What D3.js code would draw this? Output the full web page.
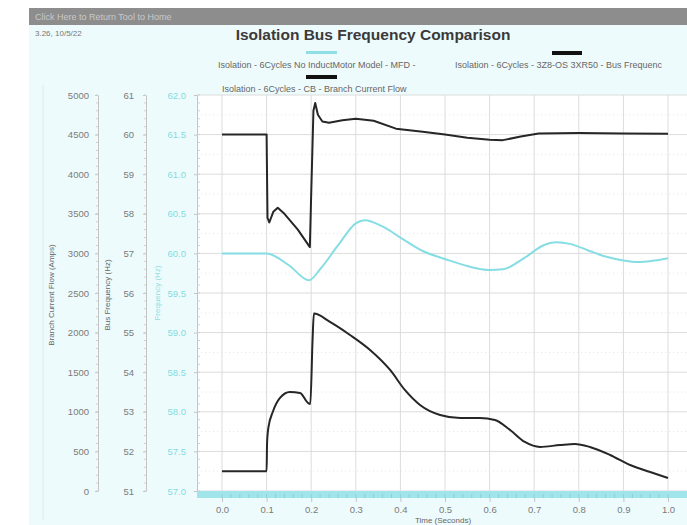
<!DOCTYPE html>
<html><head><meta charset="utf-8">
<script src="https://cdn.jsdelivr.net/npm/d3@7"></script>
<style>
html,body{margin:0;padding:0;background:#fff;overflow:hidden}
svg{display:block;font-family:"Liberation Sans",Arial,sans-serif}
</style></head>
<body><svg id="c" width="687" height="525"></svg>
<script>
// ---- data ----
const title = "Isolation Bus Frequency Comparison";
const headerText = "Click Here to Return Tool to Home";
const stampText = "3.26, 10/5/22";
const seriesNames = [
  "Isolation - 6Cycles No InductMotor Model - MFD -",
  "Isolation - 6Cycles - 3Z8-OS 3XR50 - Bus Frequenc",
  "Isolation - 6Cycles - CB - Branch Current Flow"
];
const xTicks = [0,0.1,0.2,0.3,0.4,0.5,0.6,0.7,0.8,0.9,1.0];
const ampTicks = [0,500,1000,1500,2000,2500,3000,3500,4000,4500,5000];
const hzTicks = [51,52,53,54,55,56,57,58,59,60,61];
const cyanTicks = [57,57.5,58,58.5,59,59.5,60,60.5,61,61.5,62];
const axisTitles = ["Branch Current Flow (Amps)","Bus Frequency (Hz)","Frequency (Hz)","Time (Seconds)"];

// cyan: no induction motor model frequency (third axis)
const cyanTime = [0,0.1,0.15,0.195,0.22,0.26,0.3,0.32,0.36,0.4,0.45,0.5,0.55,0.6,0.63,0.68,0.72,0.75,0.78,0.82,0.86,0.9,0.93,0.97,1.0];
const cyanFreq = [60,60,59.85,59.66,59.8,60.1,60.38,60.42,60.34,60.2,60.03,59.93,59.84,59.79,59.8,59.95,60.1,60.14,60.12,60.04,59.96,59.91,59.89,59.91,59.94];

// black: bus frequency (Hz axis)
const busTime = [0,0.1,0.102,0.106,0.115,0.125,0.14,0.17,0.197,0.2,0.205,0.209,0.215,0.225,0.24,0.27,0.3,0.34,0.39,0.45,0.5,0.55,0.6,0.63,0.67,0.71,0.8,0.9,1.0];
const busFreq = [60.0,60.0,57.9,57.78,58.05,58.15,58.0,57.6,57.16,58.5,60.6,60.8,60.5,60.33,60.3,60.36,60.4,60.35,60.15,60.07,60.0,59.92,59.87,59.86,59.95,60.03,60.04,60.03,60.02];

// black: branch current flow (Amps axis)
const curTime = [0,0.1,0.101,0.104,0.114,0.13,0.152,0.175,0.193,0.198,0.203,0.206,0.242,0.287,0.332,0.377,0.41,0.444,0.489,0.534,0.578,0.612,0.646,0.679,0.713,0.758,0.791,0.825,0.87,0.915,0.96,1.0];
const curAmps = [250,250,600,800,1000,1175,1250,1238,1111,1100,1900,2240,2135,1970,1781,1528,1276,1086,960,922,922,897,770,619,556,581,594,556,455,328,240,164];

// ---- drawing ----
const svg = d3.select("#c");
const L = 197, R = 687, T = 95, B = 491;
const x = d3.scaleLinear().domain([0,1]).range([222,668]);
const yA = d3.scaleLinear().domain([0,5000]).range([B,T]);
const yH = d3.scaleLinear().domain([51,61]).range([B,T]);
const yC = d3.scaleLinear().domain([57,62]).range([B,T]);

// page chrome
svg.append("rect").attr("x",29).attr("y",25).attr("width",658).attr("height",500).attr("fill","#eefbfc");
svg.append("rect").attr("x",29).attr("y",8).attr("width",658).attr("height",17).attr("fill","#8d8d8d");
svg.append("text").attr("x",35).attr("y",20).attr("font-size",9).attr("fill","#c9c9c9").text(headerText);
svg.append("text").attr("x",35).attr("y",36).attr("font-size",8).attr("fill","#777").text(stampText);
svg.append("line").attr("x1",43).attr("x2",43).attr("y1",85).attr("y2",520).attr("stroke","#dde8ea");

// plot area
svg.append("rect").attr("x",L).attr("y",T).attr("width",R-L).attr("height",B-T).attr("fill","#fff");

// gridlines
const minorA = d3.range(0,5001,250).filter(v=>v%500!==0);
svg.append("g").selectAll("line").data(minorA).join("line")
  .attr("x1",L).attr("x2",R).attr("y1",d=>yA(d)).attr("y2",d=>yA(d))
  .attr("stroke","#e6e6e6").attr("stroke-dasharray","1,3");
svg.append("g").selectAll("line").data(ampTicks).join("line")
  .attr("x1",L).attr("x2",R).attr("y1",d=>yA(d)).attr("y2",d=>yA(d))
  .attr("stroke","#dcdcdc");
svg.append("g").selectAll("line").data(xTicks).join("line")
  .attr("x1",d=>x(d)).attr("x2",d=>x(d)).attr("y1",T).attr("y2",B)
  .attr("stroke","#dcdcdc");

// cyan band at the bottom
svg.append("rect").attr("x",L).attr("y",B).attr("width",R-L).attr("height",7).attr("fill","#9fe5ea");

// axes helper
function styleAxis(g, color){
  g.select(".domain").attr("stroke","#c4c4c4");
  g.selectAll(".tick line").attr("stroke","#c4c4c4");
  g.selectAll(".tick text").attr("fill",color).attr("font-size",9.5).attr("font-family","Liberation Sans, Arial, sans-serif");
}
function minorTicks(scale, step, lo, hi, xpos){
  svg.append("g").selectAll("line").data(d3.range(lo,hi+step/2,step)).join("line")
    .attr("x1",xpos-2).attr("x2",xpos).attr("y1",d=>scale(d)).attr("y2",d=>scale(d))
    .attr("stroke","#d0d0d0");
}
const gA = svg.append("g").attr("transform","translate(98,0)")
  .call(d3.axisLeft(yA).tickValues(ampTicks).tickSize(3).tickPadding(6).tickSizeOuter(0).tickFormat(d3.format("d")));
styleAxis(gA,"#7a7a7a");
minorTicks(yA,100,0,5000,98);
const gH = svg.append("g").attr("transform","translate(146,0)")
  .call(d3.axisLeft(yH).tickValues(hzTicks).tickSize(3).tickPadding(9).tickSizeOuter(0).tickFormat(d3.format("d")));
styleAxis(gH,"#7a7a7a");
minorTicks(yH,0.2,51,61,146);
const gC = svg.append("g").attr("transform","translate(197,0)")
  .call(d3.axisLeft(yC).tickValues(cyanTicks).tickSize(3).tickPadding(8).tickSizeOuter(0).tickFormat(d3.format(".1f")));
styleAxis(gC,"#7fdde2");
svg.append("g").selectAll("line").data(d3.range(57,62.01,0.1)).join("line")
  .attr("x1",L).attr("x2",L+3).attr("y1",d=>yC(d)).attr("y2",d=>yC(d)).attr("stroke","#d0d0d0");

const gX = svg.append("g").attr("transform",`translate(0,${B+7})`)
  .call(d3.axisBottom(x).tickValues(xTicks).tickSize(4).tickPadding(4).tickSizeOuter(0).tickFormat(d3.format(".1f")));
styleAxis(gX,"#7a7a7a");
gX.select(".domain").remove();
svg.append("g").selectAll("line").data(d3.range(0,1.001,0.02)).join("line")
  .attr("x1",d=>x(d)).attr("x2",d=>x(d)).attr("y1",B+3).attr("y2",B+7).attr("stroke","#8fcfd4");

// axis titles
svg.append("text").attr("transform","translate(54,295) rotate(-90)").attr("text-anchor","middle")
  .attr("font-size",8).attr("fill","#666").text(axisTitles[0]);
svg.append("text").attr("transform","translate(110,295) rotate(-90)").attr("text-anchor","middle")
  .attr("font-size",8).attr("fill","#666").text(axisTitles[1]);
svg.append("text").attr("transform","translate(160,293) rotate(-90)").attr("text-anchor","middle")
  .attr("font-size",8).attr("fill","#8fdde2").text(axisTitles[2]);
svg.append("text").attr("x",443).attr("y",523).attr("text-anchor","middle")
  .attr("font-size",8).attr("fill","#666").text(axisTitles[3]);

// series
const line = (ys) => d3.line().x(d=>x(d[0])).y(d=>ys(d[1]));
svg.append("path").datum(d3.zip(cyanTime,cyanFreq)).attr("d",line(yC).curve(d3.curveMonotoneX))
  .attr("fill","none").attr("stroke","#86dde3").attr("stroke-width",2);
svg.append("path").datum(d3.zip(busTime,busFreq)).attr("d",line(yH))
  .attr("fill","none").attr("stroke","#262626").attr("stroke-width",2).attr("stroke-linejoin","round");
svg.append("path").datum(d3.zip(curTime,curAmps)).attr("d",line(yA).curve(d3.curveMonotoneX))
  .attr("fill","none").attr("stroke","#262626").attr("stroke-width",2).attr("stroke-linejoin","round");

// title & legend
svg.append("text").attr("x",373).attr("y",40).attr("text-anchor","middle")
  .attr("font-size",15.5).attr("font-weight","bold").attr("fill","#3a3a3a").text(title);
svg.append("rect").attr("x",306).attr("y",51).attr("width",31).attr("height",3).attr("fill","#8fe0e6");
svg.append("text").attr("x",218).attr("y",68).attr("font-size",9).attr("fill","#666").text(seriesNames[0]);
svg.append("rect").attr("x",552).attr("y",51).attr("width",30).attr("height",4).attr("fill","#111");
svg.append("text").attr("x",455).attr("y",68).attr("font-size",9).attr("fill","#666").text(seriesNames[1]);
svg.append("rect").attr("x",306).attr("y",75).attr("width",31).attr("height",4).attr("fill","#111");
svg.append("text").attr("x",222).attr("y",92).attr("font-size",9).attr("fill","#666").text(seriesNames[2]);
</script></body></html>
